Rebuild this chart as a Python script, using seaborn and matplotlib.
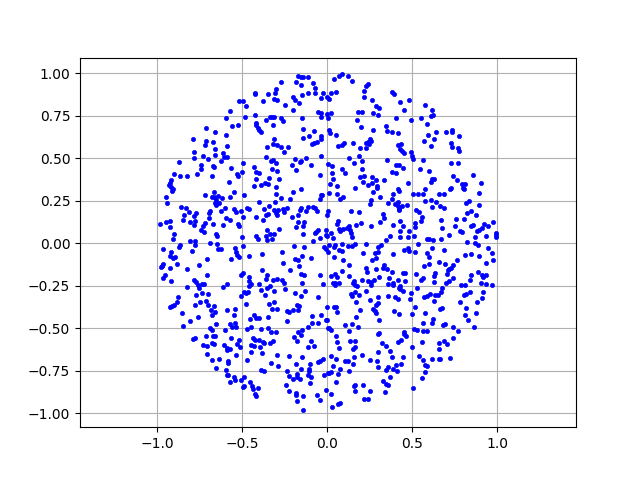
import numpy as np
import pandas as pd
import matplotlib
matplotlib.use('Agg')
import matplotlib.pyplot as plt
import seaborn as sns

# points, one list per region of the disc
upper_left_top = [
    (-0.171,0.980),(-0.157,0.978),(-0.141,0.978),(-0.112,0.975),(-0.271,0.945),(-0.182,0.945),(-0.153,0.927),
    (-0.082,0.939),(-0.071,0.910),(-0.071,0.880),(-0.112,0.880),(-0.147,0.869),(-0.024,0.880),(-0.035,0.851),
    (-0.004,0.857),(-0.302,0.904),(-0.306,0.880),(-0.347,0.875),(-0.424,0.880),(-0.424,0.875),(-0.314,0.845),
    (-0.294,0.839),(-0.376,0.833),(-0.518,0.833),(-0.494,0.833),(-0.476,0.804),(-0.200,0.857),(-0.188,0.839),
    (-0.165,0.822),(-0.247,0.810),(-0.200,0.780),(-0.053,0.769),(-0.035,0.763),(-0.035,0.739),(-0.004,0.757),
    (-0.571,0.775),(-0.594,0.733),(-0.424,0.751),(-0.482,0.739),(-0.337,0.739),(-0.325,0.739),(-0.314,0.739),
    (-0.359,0.722),(-0.271,0.733),(-0.259,0.716),(-0.147,0.733),(-0.524,0.692),(-0.559,0.686),(-0.418,0.704),
    (-0.418,0.692),(-0.406,0.675),(-0.400,0.663),(-0.388,0.651),(-0.318,0.692),(-0.712,0.675),(-0.659,0.651),
    (-0.594,0.633),(-0.788,0.610),(-0.712,0.598),(-0.718,0.575),(-0.671,0.592),(-0.588,0.569),(-0.659,0.551),
    (-0.312,0.610),(-0.318,0.580),(-0.294,0.575),(-0.271,0.563),(-0.229,0.563),(-0.353,0.563),(-0.141,0.669),
    (-0.076,0.657),(-0.106,0.627),(-0.141,0.616),(-0.035,0.627),(-0.035,0.610),(-0.059,0.592),(-0.076,0.586),
    (-0.088,0.580),
]
upper_right_top = [
    (0.041,0.963),(0.071,0.980),(0.088,0.992),(0.124,0.980),(0.147,0.951),(0.241,0.933),(0.229,0.922),(0.218,0.892),
    (0.218,0.857),(0.024,0.880),(0.053,0.886),(0.012,0.845),(0.265,0.839),(0.288,0.804),(0.306,0.792),(0.271,0.763),
    (0.300,0.751),(0.182,0.769),(0.202,0.769),(0.176,0.722),(0.200,0.680),(0.271,0.663),(0.024,0.763),(0.002,0.733),
    (0.012,0.663),(0.018,0.645),(0.053,0.633),(0.382,0.886),(0.394,0.875),(0.429,0.827),(0.482,0.839),(0.453,0.780),
    (0.406,0.733),(0.494,0.722),(0.347,0.686),(0.353,0.657),(0.382,0.651),(0.418,0.645),(0.576,0.810),(0.618,0.780),
    (0.624,0.751),(0.612,0.745),(0.553,0.733),(0.588,0.698),(0.594,0.633),(0.641,0.651),(0.629,0.610),(0.571,0.598),
    (0.612,0.569),(0.700,0.651),(0.735,0.663),(0.735,0.651),(0.776,0.627),(0.729,0.586),(0.735,0.563),(0.771,0.557),
    (0.153,0.586),(0.100,0.586),(0.084,0.575),(0.065,0.569),(0.253,0.610),(0.259,0.598),(0.241,0.592),(0.229,0.586),
    (0.247,0.580),(0.194,0.557),(0.225,0.557),(0.418,0.575),(0.435,0.580),(0.429,0.551),
]
upper_left_mid = [
    (-0.782,0.533),(-0.782,0.498),(-0.729,0.510),(-0.700,0.492),(-0.659,0.516),(-0.612,0.527),(-0.588,0.504),
    (-0.606,0.504),(-0.624,0.480),(-0.871,0.475),(-0.741,0.457),(-0.741,0.433),(-0.671,0.451),(-0.665,0.445),
    (-0.765,0.404),(-0.900,0.404),(-0.865,0.392),(-0.824,0.392),(-0.676,0.392),(-0.565,0.439),(-0.494,0.469),
    (-0.500,0.416),(-0.529,0.404),(-0.524,0.392),(-0.576,0.357),(-0.918,0.369),(-0.924,0.351),(-0.929,0.339),
    (-0.918,0.327),(-0.906,0.316),(-0.912,0.304),(-0.947,0.269),(-0.941,0.233),(-0.718,0.280),(-0.665,0.298),
    (-0.676,0.269),(-0.665,0.269),(-0.641,0.275),(-0.618,0.263),(-0.571,0.269),(-0.547,0.298),(-0.488,0.280),
    (-0.653,0.251),(-0.659,0.233),(-0.635,0.233),(-0.653,0.222),(-0.859,0.210),(-0.829,0.204),(-0.812,0.180),
    (-0.841,0.163),(-0.771,0.175),(-0.782,0.157),(-0.847,0.133),(-0.806,0.122),(-0.776,0.127),(-0.782,0.104),
    (-0.688,0.186),(-0.694,0.175),(-0.694,0.145),(-0.604,0.204),(-0.624,0.186),(-0.547,0.198),(-0.535,0.180),
    (-0.506,0.186),(-0.471,0.204),(-0.459,0.198),(-0.594,0.145),(-0.571,0.133),(-0.494,0.151),(-0.982,0.110),
    (-0.947,0.122),(-0.924,0.127),(-0.924,0.092),(-0.722,0.116),(-0.729,0.098),(-0.741,0.075),(-0.724,0.063),
    (-0.671,0.110),(-0.612,0.104),(-0.524,0.110),(-0.518,0.098),(-0.900,0.051),(-0.906,0.022),(-0.808,0.010),
    (-0.776,0.010),(-0.653,0.051),(-0.647,0.039),(-0.500,0.033),(-0.418,0.039),(-0.406,0.022),(-0.688,-0.002),
    (-0.647,-0.008),(-0.359,0.504),(-0.329,0.480),(-0.318,0.486),(-0.300,0.469),(-0.253,0.533),(-0.188,0.492),
    (-0.159,0.475),(-0.153,0.480),(-0.124,0.498),(-0.035,0.510),(-0.206,0.457),(-0.182,0.427),(-0.094,0.457),
    (0.006,0.463),(-0.429,0.445),(-0.418,0.416),(-0.400,0.410),(-0.324,0.433),(-0.294,0.422),(-0.041,0.398),
    (-0.418,0.375),(-0.341,0.380),(-0.282,0.375),(-0.429,0.333),(-0.388,0.339),(-0.365,0.351),(-0.347,0.345),
    (-0.300,0.327),(-0.300,0.286),(-0.200,0.298),(-0.153,0.316),(-0.271,0.263),(-0.218,0.257),(-0.029,0.280),
    (-0.041,0.257),(-0.035,0.280),(-0.400,0.239),(-0.306,0.239),(-0.341,0.216),(-0.371,0.198),(-0.312,0.192),
    (-0.288,0.192),(-0.259,0.198),(-0.235,0.204),(-0.300,0.175),(-0.253,0.180),(-0.347,0.169),(-0.294,0.163),
    (-0.359,0.163),(-0.418,0.151),(-0.376,0.133),(-0.206,0.151),(-0.153,0.204),(-0.159,0.192),(-0.124,0.186),
    (-0.112,0.210),(-0.082,0.210),(-0.071,0.204),(-0.059,0.186),(-0.173,0.163),(-0.171,0.122),(-0.135,0.122),
    (-0.182,0.092),(-0.141,0.098),(-0.141,0.051),(-0.282,0.080),(-0.353,0.075),(-0.335,0.051),(-0.312,0.051),
    (-0.359,0.039),(-0.324,0.022),(-0.353,0.016),(-0.053,0.075),(-0.065,0.063),(-0.071,0.057),(-0.006,0.045),
    (-0.041,0.027),(-0.082,0.010),
]
upper_right_mid = [
    (0.129,0.498),(0.188,0.510),(0.159,0.469),(0.206,0.480),(0.029,0.451),(0.206,0.433),(0.088,0.433),(0.106,0.410),
    (0.029,0.410),(0.035,0.375),(0.018,0.345),(0.059,0.333),(0.012,0.292),(0.059,0.286),(0.076,0.257),(0.094,0.269),
    (0.165,0.322),(0.194,0.386),(0.218,0.392),(0.212,0.357),(0.241,0.339),(0.265,0.386),(0.265,0.351),(0.288,0.369),
    (0.294,0.333),(0.294,0.325),(0.335,0.369),(0.271,0.298),(0.312,0.269),(0.259,0.251),(0.253,0.227),(0.353,0.486),
    (0.406,0.457),(0.424,0.457),(0.447,0.439),(0.382,0.416),(0.406,0.410),(0.441,0.539),(0.453,0.527),(0.494,0.533),
    (0.500,0.510),(0.506,0.492),(0.565,0.486),(0.547,0.433),(0.600,0.422),(0.476,0.351),(0.629,0.375),(0.618,0.375),
    (0.612,0.357),(0.729,0.469),(0.771,0.469),(0.776,0.539),(0.741,0.392),(0.765,0.369),(0.859,0.398),(0.794,0.345),
    (0.812,0.345),(0.800,0.322),(0.806,0.316),(0.729,0.322),(0.724,0.316),(0.906,0.351),(0.894,0.292),(0.418,0.316),
    (0.424,0.304),(0.388,0.286),(0.382,0.257),(0.359,0.233),(0.506,0.286),(0.535,0.286),(0.565,0.286),(0.576,0.316),
    (0.659,0.286),(0.688,0.286),(0.576,0.245),(0.612,0.251),(0.641,0.239),(0.665,0.216),(0.688,0.204),(0.618,0.210),
    (0.818,0.233),(0.835,0.245),(0.894,0.222),(0.847,0.186),(0.824,0.175),(0.876,0.163),(0.400,0.227),(0.418,0.239),
    (0.418,0.216),(0.471,0.222),(0.441,0.216),(0.422,0.198),(0.424,0.192),(0.524,0.192),(0.541,0.180),(0.559,0.151),
    (0.553,0.127),(0.518,0.116),(0.518,0.092),(0.006,0.186),(0.000,0.163),(0.141,0.186),(0.188,0.180),(0.065,0.127),
    (0.059,0.110),(0.200,0.116),(0.171,0.104),(0.329,0.169),(0.335,0.145),(0.312,0.122),(0.259,0.098),(0.388,0.104),
    (0.429,0.127),(0.447,0.098),(0.671,0.133),(0.676,0.086),(0.759,0.139),(0.806,0.139),(0.753,0.098),(0.782,0.069),
    (0.794,0.063),(0.847,0.098),(0.859,0.104),(0.976,0.122),(0.924,0.110),(0.947,0.098),(0.912,0.086),(0.894,0.075),
    (0.882,0.069),(0.994,0.057),(0.994,0.045),(0.994,0.033),(0.935,0.039),(0.871,0.033),(0.824,0.004),(0.871,-0.002),
    (0.071,0.080),(0.076,0.069),(0.094,0.080),(0.118,0.086),(0.129,0.098),(0.135,0.075),(0.141,0.057),(0.147,0.033),
    (0.024,0.057),(-0.006,0.075),(0.000,0.039),(0.035,0.027),(0.482,0.069),(0.429,0.069),(0.371,0.039),(0.347,0.016),
    (0.429,0.033),(0.476,0.033),(0.512,0.039),(0.588,0.022),(0.600,0.022),(0.624,0.016),(0.671,0.022),(0.718,0.045),
]
lower_left_mid = [
    (-0.965,-0.037),(-0.865,-0.014),(-0.871,-0.025),(-0.776,-0.014),(-0.794,-0.049),(-0.918,-0.055),(-0.924,-0.078),
    (-0.906,-0.090),(-0.894,-0.084),(-0.706,-0.096),(-0.965,-0.125),(-0.971,-0.137),(-0.976,-0.143),(-0.924,-0.149),
    (-0.882,-0.125),(-0.824,-0.155),(-0.753,-0.131),(-0.953,-0.190),(-0.965,-0.208),(-0.918,-0.225),(-0.706,-0.190),
    (-0.782,-0.220),(-0.771,-0.231),(-0.759,-0.249),(-0.753,-0.267),(-0.735,-0.243),(-0.724,-0.243),(-0.824,-0.261),
    (-0.771,-0.308),(-0.735,-0.296),(-0.700,-0.302),(-0.876,-0.320),(-0.882,-0.349),(-0.900,-0.367),(-0.912,-0.373),
    (-0.924,-0.378),(-0.776,-0.367),(-0.747,-0.349),(-0.712,-0.343),(-0.700,-0.367),(-0.665,-0.373),(-0.682,-0.396),
    (-0.659,-0.408),(-0.676,-0.425),(-0.853,-0.414),(-0.759,-0.437),(-0.806,-0.461),(-0.847,-0.490),(-0.653,-0.478),
    (-0.688,-0.502),(-0.676,-0.514),(-0.588,-0.396),(-0.541,-0.390),(-0.547,-0.425),(-0.571,-0.478),(-0.541,-0.473),
    (-0.559,-0.496),(-0.535,-0.496),(-0.600,-0.514),(-0.641,-0.037),(-0.624,-0.037),(-0.541,-0.031),(-0.535,-0.055),
    (-0.529,-0.073),(-0.518,-0.084),(-0.565,-0.096),(-0.494,-0.020),(-0.459,-0.078),(-0.382,-0.067),(-0.265,-0.055),
    (-0.194,-0.020),(-0.135,-0.025),(-0.018,-0.025),(-0.006,-0.037),(-0.188,-0.096),(-0.171,-0.102),(-0.147,-0.078),
    (-0.094,-0.090),(-0.259,-0.120),(-0.165,-0.137),(-0.218,-0.161),(-0.382,-0.161),(-0.041,-0.190),(-0.153,-0.184),
    (-0.135,-0.190),(-0.494,-0.178),(-0.506,-0.190),(-0.459,-0.202),(-0.459,-0.225),(-0.447,-0.243),(-0.459,-0.255),
    (-0.353,-0.190),(-0.359,-0.212),(-0.318,-0.220),(-0.294,-0.212),(-0.265,-0.220),(-0.253,-0.237),(-0.400,-0.243),
    (-0.147,-0.237),(-0.024,-0.243),(-0.588,-0.243),(-0.612,-0.261),(-0.353,-0.267),(-0.335,-0.255),(-0.388,-0.278),
    (-0.312,-0.284),(-0.247,-0.273),(-0.365,-0.308),(-0.488,-0.290),(-0.465,-0.290),(-0.476,-0.296),(-0.506,-0.314),
    (-0.188,-0.296),(-0.129,-0.284),(-0.153,-0.314),(-0.053,-0.320),(-0.476,-0.361),(-0.341,-0.361),(-0.312,-0.349),
    (-0.324,-0.390),(-0.294,-0.390),(-0.176,-0.367),(-0.165,-0.373),(-0.235,-0.402),(-0.224,-0.408),(-0.200,-0.396),
    (-0.171,-0.396),(-0.235,-0.461),(-0.347,-0.437),(-0.429,-0.425),(-0.418,-0.443),(-0.400,-0.443),(-0.453,-0.449),
    (-0.447,-0.496),(-0.471,-0.508),(-0.388,-0.508),(-0.347,-0.502),(-0.300,-0.525),(-0.329,-0.525),(-0.171,-0.525),
    (-0.147,-0.514),(-0.112,-0.496),(-0.088,-0.473),(-0.088,-0.431),(-0.053,-0.473),(-0.035,-0.425),(-0.006,-0.455),
    (0.006,-0.502),
]
lower_right_mid = [
    (0.012,-0.014),(0.047,-0.014),(0.041,-0.025),(0.088,-0.008),(0.124,-0.020),(0.147,-0.020),(0.165,-0.008),
    (0.229,-0.008),(0.006,-0.055),(0.071,-0.043),(0.088,-0.049),(0.041,-0.084),(0.094,-0.102),(0.212,-0.061),
    (0.300,-0.025),(0.318,-0.014),(0.300,-0.055),(0.282,-0.061),(0.288,-0.090),(0.265,-0.102),(0.388,-0.067),
    (0.453,-0.043),(0.476,-0.031),(0.482,-0.049),(0.518,-0.055),(0.535,-0.008),(0.618,-0.031),(0.688,-0.043),
    (0.588,-0.061),(0.600,-0.084),(0.888,-0.014),(0.947,-0.031),(0.971,-0.061),(0.894,-0.078),(0.847,-0.067),
    (0.812,-0.073),(0.976,-0.102),(0.935,-0.120),(0.765,-0.102),(0.741,-0.131),(0.729,-0.149),(0.718,-0.155),
    (0.712,-0.161),(0.694,-0.125),(0.659,-0.114),(0.600,-0.125),(0.571,-0.137),(0.129,-0.131),(0.229,-0.149),
    (0.235,-0.173),(0.288,-0.155),(0.329,-0.149),(0.335,-0.131),(0.353,-0.155),(0.382,-0.173),(0.088,-0.167),
    (0.024,-0.196),(0.047,-0.184),(0.059,-0.202),(0.129,-0.196),(0.306,-0.202),(0.365,-0.208),(0.459,-0.178),
    (0.447,-0.178),(0.524,-0.184),(0.416,-0.220),(0.459,-0.225),(0.206,-0.220),(0.241,-0.225),(0.259,-0.231),
    (0.276,-0.220),(0.159,-0.225),(0.153,-0.237),(0.165,-0.249),(0.176,-0.255),(0.047,-0.237),(0.071,-0.237),
    (0.035,-0.237),(0.047,-0.249),(0.359,-0.243),(0.388,-0.237),(0.388,-0.249),(0.429,-0.255),(0.424,-0.267),
    (0.429,-0.273),(0.447,-0.284),(0.259,-0.249),(0.635,-0.178),(0.629,-0.196),(0.629,-0.231),(0.565,-0.208),
    (0.553,-0.220),(0.706,-0.184),(0.741,-0.208),(0.718,-0.225),(0.700,-0.237),(0.847,-0.190),(0.841,-0.218),
    (0.888,-0.173),(0.912,-0.190),(0.935,-0.190),(0.918,-0.200),(0.906,-0.237),(0.935,-0.243),(0.971,-0.249),
    (0.788,-0.249),(0.812,-0.249),(0.676,-0.267),(0.671,-0.290),(0.653,-0.308),(0.635,-0.308),(0.606,-0.302),
    (0.588,-0.312),(0.571,-0.318),(0.629,-0.343),(0.529,-0.267),(0.494,-0.296),(0.488,-0.331),(0.229,-0.284),
    (0.141,-0.302),(0.147,-0.314),(0.165,-0.290),(0.188,-0.308),(0.171,-0.349),(0.253,-0.337),(0.300,-0.320),
    (0.300,-0.355),(0.288,-0.367),(0.271,-0.390),(0.282,-0.402),(0.288,-0.414),(0.359,-0.314),(0.400,-0.320),
    (0.418,-0.331),(0.806,-0.308),(0.818,-0.302),(0.841,-0.290),(0.918,-0.290),(0.912,-0.325),(0.882,-0.349),
    (0.782,-0.349),(0.818,-0.384),(0.876,-0.414),(0.812,-0.425),(0.829,-0.455),(0.865,-0.496),(0.000,-0.378),
    (0.041,-0.378),(0.053,-0.378),(0.059,-0.408),(0.194,-0.396),(0.171,-0.437),(0.000,-0.455),(0.106,-0.484),
    (0.147,-0.478),(0.182,-0.496),(0.306,-0.455),(0.394,-0.402),(0.424,-0.420),(0.500,-0.420),(0.518,-0.378),
    (0.576,-0.414),(0.665,-0.390),(0.676,-0.384),(0.624,-0.449),(0.618,-0.473),(0.565,-0.473),(0.694,-0.478),
    (0.682,-0.484),(0.741,-0.496),(0.512,-0.508),(0.529,-0.514),(0.565,-0.520),(0.588,-0.520),(0.771,-0.520),
    (0.012,-0.502),(0.024,-0.514),(0.129,-0.520),(0.453,-0.525),(0.306,-0.529),
]
lower_left_bottom = [
    (-0.788,-0.567),(-0.776,-0.561),(-0.712,-0.549),(-0.671,-0.549),(-0.659,-0.549),(-0.565,-0.561),(-0.518,-0.573),
    (-0.435,-0.561),(-0.424,-0.573),(-0.400,-0.573),(-0.376,-0.584),(-0.371,-0.590),(-0.318,-0.578),(-0.335,-0.590),
    (-0.194,-0.555),(-0.176,-0.578),(-0.153,-0.543),(-0.094,-0.578),(-0.112,-0.614),(-0.076,-0.608),(-0.729,-0.602),
    (-0.706,-0.608),(-0.676,-0.590),(-0.665,-0.596),(-0.606,-0.602),(-0.588,-0.620),(-0.571,-0.625),(-0.588,-0.631),
    (-0.529,-0.596),(-0.512,-0.614),(-0.447,-0.602),(-0.429,-0.608),(-0.394,-0.614),(-0.447,-0.643),(-0.382,-0.649),
    (-0.706,-0.655),(-0.535,-0.661),(-0.294,-0.661),(-0.224,-0.667),(-0.147,-0.673),(-0.676,-0.690),(-0.635,-0.684),
    (-0.582,-0.696),(-0.582,-0.708),(-0.471,-0.690),(-0.329,-0.708),(-0.288,-0.725),(-0.182,-0.714),(-0.100,-0.714),
    (-0.053,-0.702),(-0.041,-0.696),(-0.024,-0.684),(-0.653,-0.737),(-0.594,-0.749),(-0.388,-0.749),(-0.371,-0.755),
    (-0.235,-0.755),(-0.153,-0.743),(-0.106,-0.743),(-0.106,-0.755),(-0.588,-0.778),(-0.582,-0.778),(-0.547,-0.790),
    (-0.541,-0.808),(-0.488,-0.790),(-0.506,-0.808),(-0.571,-0.820),(-0.453,-0.820),(-0.488,-0.843),(-0.494,-0.849),
    (-0.441,-0.843),(-0.435,-0.861),(-0.406,-0.855),(-0.424,-0.890),(-0.418,-0.902),(-0.224,-0.784),(-0.200,-0.802),
    (-0.176,-0.772),(-0.176,-0.790),(-0.159,-0.802),(-0.112,-0.778),(-0.094,-0.790),(-0.018,-0.778),(0.006,-0.767),
    (-0.100,-0.825),(-0.241,-0.837),(-0.224,-0.873),(-0.182,-0.884),(-0.182,-0.896),(-0.141,-0.902),(-0.176,-0.931),
    (-0.059,-0.896),(-0.041,-0.925),(-0.141,-0.984),(-0.006,-0.867),
]
lower_right_bottom = [
    (0.053,-0.549),(0.059,-0.584),(0.071,-0.620),(0.135,-0.578),(0.165,-0.578),(0.153,-0.625),(0.165,-0.614),
    (0.300,-0.537),(0.324,-0.590),(0.347,-0.608),(0.300,-0.643),(0.371,-0.637),(0.206,-0.661),(0.159,-0.673),
    (0.024,-0.667),(0.053,-0.684),(0.106,-0.696),(0.124,-0.696),(0.153,-0.714),(0.035,-0.725),(0.076,-0.743),
    (0.129,-0.755),(0.253,-0.690),(0.294,-0.696),(0.300,-0.731),(0.382,-0.673),(0.447,-0.673),(0.435,-0.714),
    (0.406,-0.720),(0.359,-0.731),(0.347,-0.749),(0.388,-0.743),(0.412,-0.755),(0.418,-0.584),(0.435,-0.573),
    (0.453,-0.537),(0.465,-0.549),(0.500,-0.614),(0.559,-0.584),(0.659,-0.590),(0.688,-0.578),(0.706,-0.596),
    (0.741,-0.561),(0.659,-0.625),(0.541,-0.667),(0.565,-0.690),(0.618,-0.684),(0.659,-0.684),(0.665,-0.684),
    (0.724,-0.678),(0.576,-0.720),(0.588,-0.725),(0.576,-0.761),(0.559,-0.796),(0.371,-0.790),(0.329,-0.814),
    (0.347,-0.831),(0.359,-0.837),(0.341,-0.878),(0.506,-0.855),(0.253,-0.873),(0.212,-0.837),(0.165,-0.837),
    (0.159,-0.843),(0.165,-0.873),(0.218,-0.920),(0.241,-0.920),(0.053,-0.820),(0.065,-0.772),(0.024,-0.761),
    (0.012,-0.767),(0.024,-0.890),(0.076,-0.943),(0.065,-0.949),(0.029,-0.967),
]

points = np.array(upper_left_top + upper_right_top + upper_left_mid + upper_right_mid
                  + lower_left_mid + lower_right_mid + lower_left_bottom + lower_right_bottom)
df = pd.DataFrame(points, columns=['x', 'y'])

fig, ax = plt.subplots(figsize=(6.4, 4.8), dpi=100)
sns.scatterplot(data=df, x='x', y='y', color='b', marker='.', s=36,
                edgecolor='b', linewidth=0.5, zorder=2, ax=ax)
ax.set_xlabel('')
ax.set_ylabel('')
ax.set_xlim(-1.455, 1.463)
ax.set_ylim(-1.083, 1.091)
ax.set_yticks(np.arange(-1, 1.01, 0.25))
ax.grid(True)
plt.savefig('out.png', dpi=100)
